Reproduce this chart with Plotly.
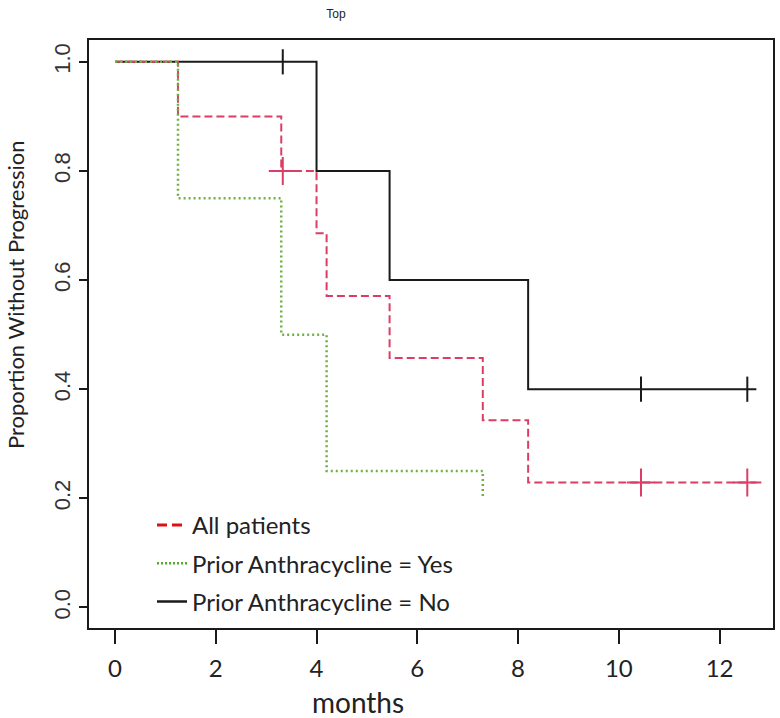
import plotly.graph_objects as go

# Kaplan-Meier step data (months, proportion without progression)
times_all = [0, 1.25, 3.3, 4.0, 4.2, 5.45, 7.3, 8.2, 12.73]
surv_all = [1.0, 0.9, 0.8, 0.686, 0.571, 0.457, 0.343, 0.229, 0.229]
cens_all_t = [3.33, 10.44, 12.55]
cens_all_s = [0.8, 0.229, 0.229]

times_yes = [0, 1.25, 3.3, 4.2, 7.3]
surv_yes = [1.0, 0.75, 0.5, 0.25, 0.2]

times_no = [0, 4.0, 5.45, 8.2, 12.73]
surv_no = [1.0, 0.8, 0.6, 0.4, 0.4]
cens_no_t = [3.33, 10.44, 12.55]
cens_no_s = [1.0, 0.4, 0.4]

legend_labels = ["All patients", "Prior Anthracycline = Yes", "Prior Anthracycline = No"]
x_ticks = [0, 2, 4, 6, 8, 10, 12]
y_ticks = [0.0, 0.2, 0.4, 0.6, 0.8, 1.0]

RED = "#db3d66"
GREEN = "#6fb043"
BLACK = "#1a1a1a"

W, H = 780, 718
ML, MT, MR, MB = 89, 40, 7, 90
PW, PH = W - ML - MR, H - MT - MB  # 684 x 588


def px_x(px):
    return (px - ML) / PW


def px_y(py):
    return (H - MB - py) / PH


fig = go.Figure()

# curves
fig.add_trace(go.Scatter(x=times_no, y=surv_no, mode="lines", line=dict(shape="hv", color=BLACK, width=2),
                         showlegend=False))
fig.add_trace(go.Scatter(x=cens_no_t, y=cens_no_s, mode="markers",
                         marker=dict(symbol="line-ns", size=18, line=dict(color=BLACK, width=2)),
                         showlegend=False))
fig.add_trace(go.Scatter(x=times_all, y=surv_all, mode="lines",
                         line=dict(shape="hv", color=RED, width=2, dash="8px,4px"), showlegend=False))
fig.add_trace(go.Scatter(x=cens_all_t, y=cens_all_s, mode="markers",
                         marker=dict(symbol="cross-thin", size=20, line=dict(color=RED, width=2)),
                         showlegend=False))
fig.add_trace(go.Scatter(x=times_yes, y=surv_yes, mode="lines",
                         line=dict(shape="hv", color=GREEN, width=2.5, dash="2px,3px"), showlegend=False))

# legend entries
leg_styles = [dict(color="#dd1111", width=3, dash="10px,5px"),
              dict(color="#55a830", width=2.5, dash="2px,2px"),
              dict(color=BLACK, width=2.5)]
for i, (lab, st) in enumerate(zip(legend_labels, leg_styles)):
    fig.add_trace(go.Scatter(x=[None], y=[None], mode="lines", line=st, name=lab,
                             legendgroup=f"g{i}", showlegend=True))

fig.update_layout(
    width=W, height=H,
    margin=dict(l=ML, r=MR, t=MT, b=MB),
    paper_bgcolor="white", plot_bgcolor="white",
    title=dict(text="Top", x=336 / W, xanchor="center", y=1 - 14 / H, yanchor="middle",
               font=dict(family="Liberation Sans, Arial", size=12, color="#222")),
    legend=dict(x=px_x(152), y=px_y(503), xanchor="left", yanchor="top", bgcolor="rgba(255,255,255,0)",
                font=dict(family="Lato", size=24, color="#222"), tracegroupgap=4,
                traceorder="grouped"),
    xaxis=dict(range=[-0.516, 13.06], tickvals=x_ticks, ticktext=[str(v) for v in x_ticks],
               automargin=False,
               showgrid=False, zeroline=False, showline=True, linecolor=BLACK, linewidth=1.5,
               mirror=True, ticks="outside", ticklen=14, tickwidth=1.5, tickcolor=BLACK,
               ticklabelstandoff=4,
               tickfont=dict(family="Lato", size=24, color="#222")),
    yaxis=dict(range=[-0.0376, 1.040], tickvals=y_ticks, ticktext=[f"{v:.1f}" for v in y_ticks],
               automargin=False,
               showgrid=False, zeroline=False, showline=True, linecolor=BLACK, linewidth=1.5,
               mirror=True, ticks="outside", ticklen=8, tickwidth=1.5, tickcolor=BLACK,
               ticklabelstandoff=0,
               tickangle=-90, tickfont=dict(family="Liberation Sans, Arial", size=22, color="#333")),
    annotations=[
        dict(text="months", xref="paper", yref="paper", x=px_x(357.5), y=px_y(702),
             xanchor="center", yanchor="middle", showarrow=False,
             font=dict(family="Lato", size=28, color="#222")),
        dict(text="Proportion Without Progression", xref="paper", yref="paper",
             x=px_x(15), y=px_y(295), textangle=-90,
             xanchor="center", yanchor="middle", showarrow=False,
             font=dict(family="Lato", size=22, color="#222")),
    ],
)

# remove the default page margin so the figure fills the 780x718 window exactly
fig.write_html("out.html", config={"displayModeBar": False},
               post_script="document.body.style.margin='0';document.body.style.overflow='hidden';")
